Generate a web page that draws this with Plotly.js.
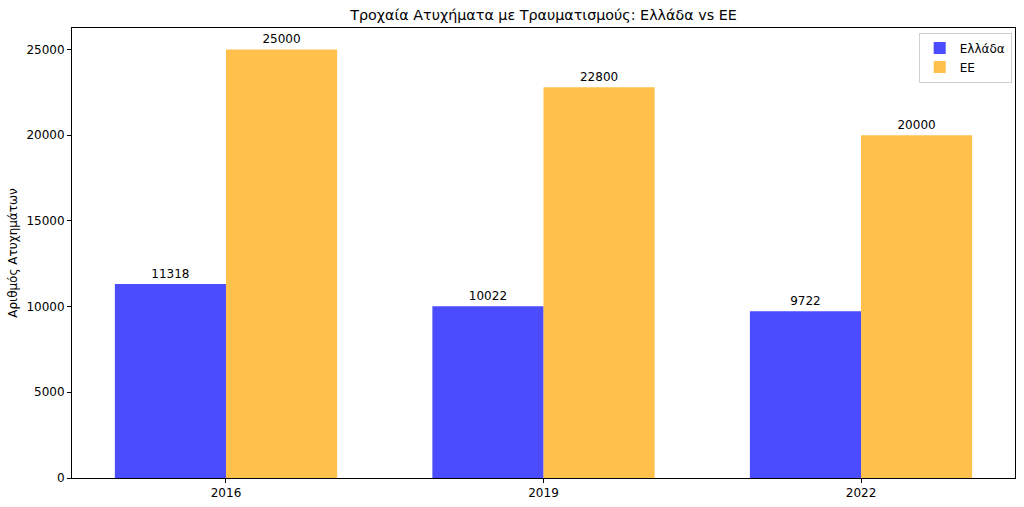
<!DOCTYPE html>
<html>
<head>
<meta charset="utf-8">
<script src="https://cdn.plot.ly/plotly-3.0.1.min.js"></script>
<style>html,body{margin:0;padding:0;background:#fff;}#chart{width:1024px;height:507px;}</style>
</head>
<body>
<div id="chart"></div>
<script>
const years = ['2016', '2019', '2022'];
const greece = [11318, 10022, 9722];
const eu = [25000, 22800, 20000];
const seriesNames = ['Ελλάδα', 'ΕΕ'];
const yTicks = [0, 5000, 10000, 15000, 20000, 25000];

const font = {family: 'DejaVu Sans, sans-serif', size: 12, color: '#000'};

const traces = [
  {
    type: 'bar', name: seriesNames[0], x: years, y: greece,
    marker: {color: 'rgba(0,0,255,0.7)', line: {width: 0}},
    text: greece.map(String), textposition: 'outside', cliponaxis: false,
    textfont: {family: font.family, size: 12, color: '#000'},
    hoverinfo: 'x+y'
  },
  {
    type: 'bar', name: seriesNames[1], x: years, y: eu,
    marker: {color: 'rgba(255,165,0,0.7)', line: {width: 0}},
    text: eu.map(String), textposition: 'outside', cliponaxis: false,
    textfont: {family: font.family, size: 12, color: '#000'},
    hoverinfo: 'x+y'
  }
];

const layout = {
  width: 1024, height: 507,
  paper_bgcolor: '#fff', plot_bgcolor: '#fff',
  font: font,
  margin: {l: 72, r: 9, t: 28, b: 29, pad: 0},
  barmode: 'group', bargap: 0.3, bargroupgap: 0,
  title: {text: 'Τροχαία Ατυχήματα με Τραυματισμούς: Ελλάδα vs ΕΕ', font: {family: font.family, size: 14.3, color: '#000'}, xref: 'paper', x: 0.5, xanchor: 'center', y: 0.97, yanchor: 'middle'},
  xaxis: {
    type: 'category', range: [-0.485, 2.485],
    showline: true, linecolor: '#000', linewidth: 1, mirror: true,
    ticks: 'outside', ticklen: 4, tickcolor: '#000', tickwidth: 1,
    showgrid: false, zeroline: false, tickfont: font, automargin: false
  },
  yaxis: {
    range: [0, 26250], tickvals: yTicks, ticktext: yTicks.map(String),
    showline: true, linecolor: '#000', linewidth: 1, mirror: true,
    ticks: 'outside', ticklen: 4, tickcolor: '#000', tickwidth: 1,
    showgrid: false, zeroline: false, tickfont: font, automargin: false,
    title: {text: 'Αριθμός Ατυχημάτων', font: font, standoff: 6}
  },
  showlegend: true,
  legend: {
    x: 0.9965, xanchor: 'right', y: 0.99, yanchor: 'top',
    bgcolor: 'rgba(255,255,255,0.8)', bordercolor: '#d0d0d0', borderwidth: 1,
    font: font, tracegroupgap: 0, itemwidth: 30,
    entrywidth: 52
  }
};

Plotly.newPlot('chart', traces, layout, {displayModeBar: false, staticPlot: true});
</script>
</body>
</html>
